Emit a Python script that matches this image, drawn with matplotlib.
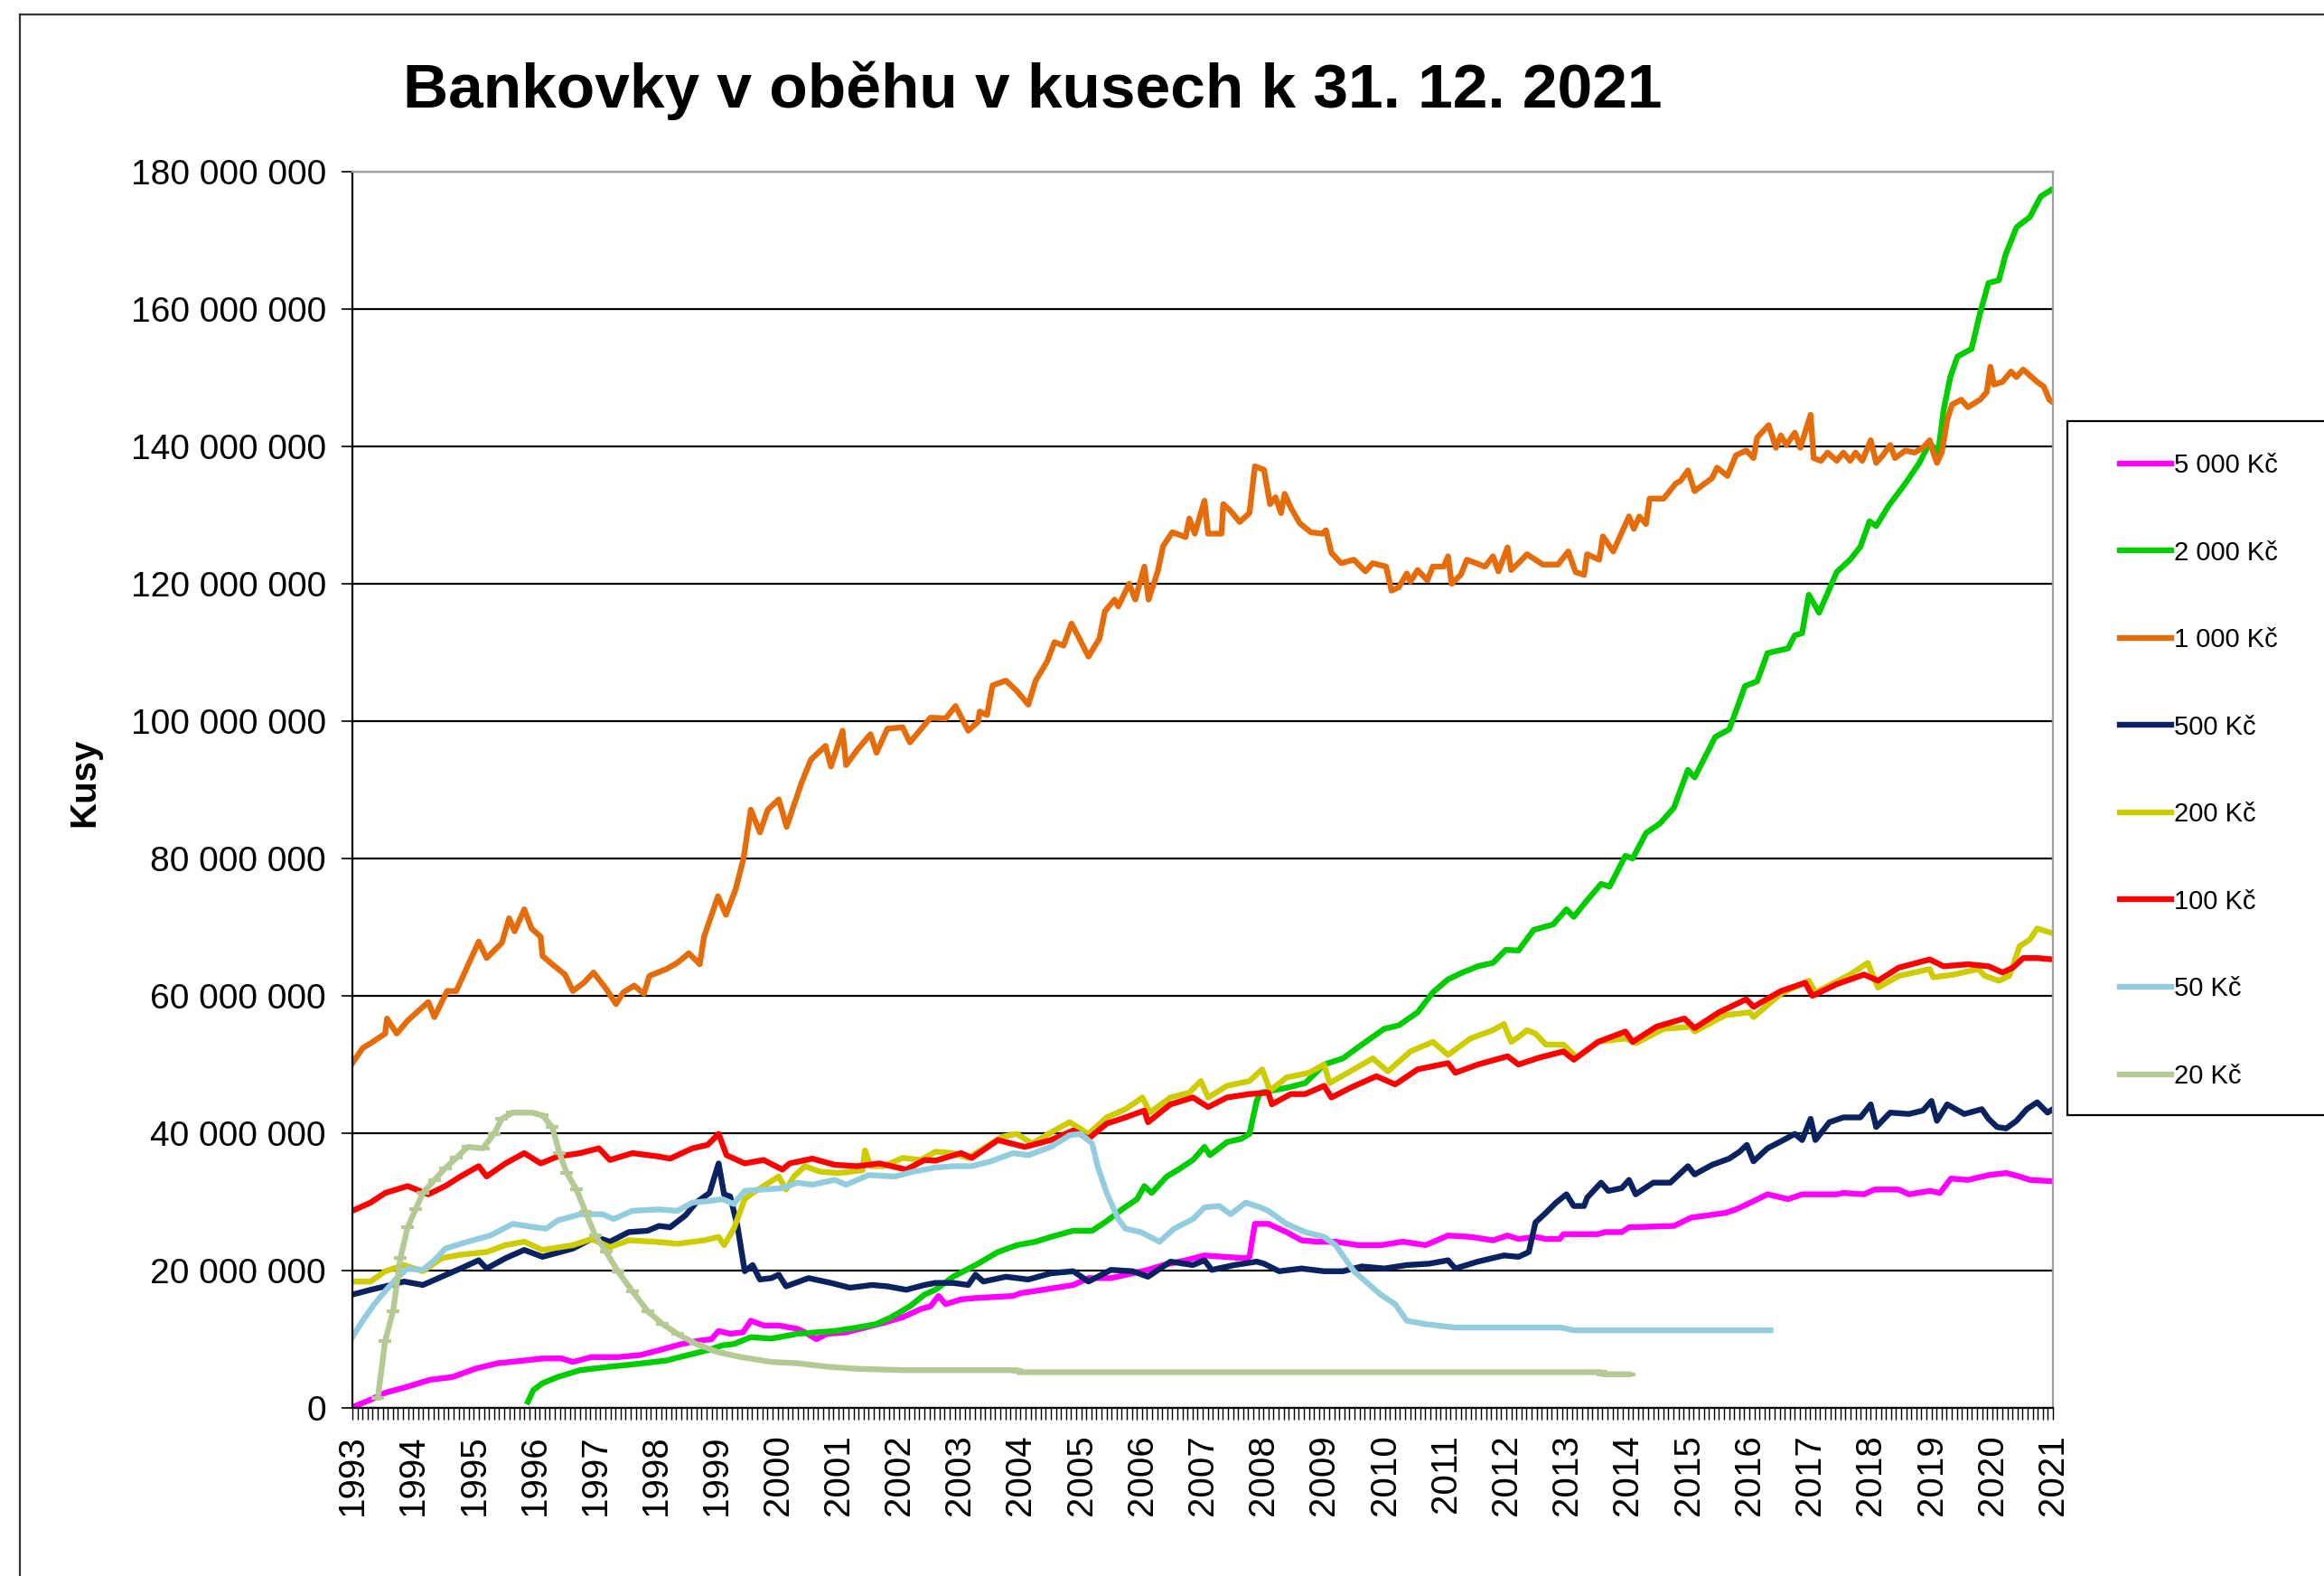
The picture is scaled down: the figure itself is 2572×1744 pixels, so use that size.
import matplotlib
matplotlib.use('Agg')
import matplotlib.pyplot as plt
from matplotlib.ticker import FuncFormatter, MultipleLocator
from matplotlib.patches import Rectangle
from matplotlib.lines import Line2D

plt.rcParams['font.family'] = ['Liberation Sans', 'DejaVu Sans']

# --- data: years (decimal) and values in millions of pieces ---
title = 'Bankovky v oběhu v kusech k 31. 12. 2021'
series_names = ['5 000 Kč', '2 000 Kč', '1 000 Kč', '500 Kč', '200 Kč', '100 Kč', '50 Kč', '20 Kč']
series_colors = ['#FF00FF', '#00CC00', '#E46C0A', '#0A2260', '#CCCC00', '#FF0000', '#93CDDD', '#B4C994']

k5000_x = [1993.0, 1993.3, 1993.54, 1993.91, 1994.28, 1994.65, 1995.02, 1995.39, 1995.83, 1996.13,
           1996.44, 1996.63, 1996.94, 1997.37, 1997.74, 1998.05, 1998.42, 1998.72, 1998.91, 1999.03,
           1999.22, 1999.43, 1999.56, 1999.77, 2000.02, 2000.33, 2000.45, 2000.64, 2000.82, 2001.13,
           2001.44, 2001.75, 2002.06, 2002.36, 2002.52, 2002.65, 2002.77, 2003.02, 2003.26, 2003.88,
           2004.0, 2004.37, 2004.87, 2005.12, 2005.49, 2005.85, 2006.1, 2006.35, 2006.72, 2007.03,
           2007.34, 2007.71, 2007.77, 2007.86, 2008.08, 2008.38, 2008.63, 2008.88, 2009.19, 2009.56,
           2009.93, 2010.3, 2010.67, 2011.04, 2011.41, 2011.78, 2012.02, 2012.2, 2012.48, 2012.65,
           2012.88, 2012.94, 2013.51, 2013.62, 2013.9, 2014.02, 2014.76, 2015.04, 2015.61, 2015.78,
           2016.07, 2016.3, 2016.64, 2016.87, 2017.44, 2017.55, 2017.89, 2018.06, 2018.46, 2018.63,
           2018.97, 2019.14, 2019.32, 2019.6, 2019.94, 2020.23, 2020.45, 2020.62, 2021.0]
k5000_y = [0.1, 1.2, 2.2, 3.1, 4.1, 4.5, 5.7, 6.5, 6.9, 7.2,
           7.2, 6.7, 7.4, 7.4, 7.7, 8.4, 9.3, 9.8, 10.0, 11.2,
           10.8, 11.0, 12.7, 12.0, 12.0, 11.5, 11.0, 10.0, 10.8, 11.0,
           11.7, 12.4, 13.2, 14.4, 14.8, 16.3, 15.1, 15.8, 16.0, 16.3,
           16.7, 17.2, 17.9, 18.9, 18.9, 19.6, 20.1, 20.8, 21.5, 22.2,
           22.0, 21.8, 22.0, 26.8, 26.8, 25.6, 24.4, 24.2, 24.2, 23.7,
           23.7, 24.2, 23.7, 25.1, 24.9, 24.4, 25.1, 24.6, 24.9, 24.6,
           24.6, 25.3, 25.3, 25.6, 25.6, 26.3, 26.5, 27.7, 28.4, 28.9,
           30.1, 31.1, 30.4, 31.1, 31.1, 31.3, 31.1, 31.8, 31.8, 31.1,
           31.6, 31.3, 33.4, 33.2, 33.9, 34.2, 33.7, 33.2, 33.0]

k2000_x = [1995.89, 1995.98, 1996.13, 1996.38, 1996.75, 1997.24, 1997.68, 1998.17, 1998.48, 1998.85,
           1999.09, 1999.28, 1999.56, 1999.9, 2000.33, 2000.64, 2000.94, 2001.31, 2001.62, 2001.87,
           2002.18, 2002.42, 2002.6, 2002.89, 2003.26, 2003.63, 2003.94, 2004.25, 2004.5, 2004.87,
           2005.18, 2005.42, 2005.67, 2005.92, 2006.04, 2006.16, 2006.41, 2006.6, 2006.84, 2007.03,
           2007.12, 2007.4, 2007.64, 2007.77, 2007.89, 2007.95, 2008.38, 2008.69, 2009.0, 2009.31,
           2009.62, 2009.99, 2010.23, 2010.54, 2010.79, 2011.04, 2011.28, 2011.53, 2011.78, 2011.99,
           2012.2, 2012.45, 2012.77, 2012.99, 2013.11, 2013.31, 2013.56, 2013.7, 2013.96, 2014.08,
           2014.3, 2014.53, 2014.76, 2014.99, 2015.1, 2015.44, 2015.67, 2015.93, 2016.13, 2016.3,
           2016.64, 2016.75, 2016.87, 2016.98, 2017.15, 2017.44, 2017.66, 2017.83, 2017.98, 2018.09,
           2018.29, 2018.57, 2018.8, 2018.97, 2019.11, 2019.2, 2019.31, 2019.43, 2019.66, 2019.8,
           2019.94, 2020.11, 2020.22, 2020.4, 2020.62, 2020.8, 2021.0]
k2000_y = [0.9, 2.6, 3.6, 4.5, 5.5, 6.0, 6.4, 6.9, 7.6, 8.4,
           9.1, 9.3, 10.3, 10.1, 10.8, 11.0, 11.2, 11.7, 12.2, 13.2,
           14.8, 16.5, 17.2, 19.1, 20.8, 22.7, 23.7, 24.2, 24.9, 25.8,
           25.8, 27.2, 28.9, 30.4, 32.3, 31.3, 33.7, 34.7, 36.1, 38.0,
           36.8, 38.7, 39.2, 39.9, 44.7, 45.9, 46.6, 47.3, 50.0, 50.9,
           52.9, 55.2, 55.7, 57.6, 60.5, 62.4, 63.4, 64.3, 64.8, 66.7,
           66.6, 69.6, 70.4, 72.6, 71.5, 73.7, 76.3, 75.9, 80.4, 80.0,
           83.7, 85.1, 87.4, 92.9, 91.8, 97.7, 98.8, 105.1, 105.8, 109.9,
           110.6, 112.5, 112.8, 118.4, 115.8, 121.7, 123.5, 125.4, 129.1, 128.4,
           131.3, 134.6, 137.6, 140.5, 139.1, 145.3, 150.1, 153.1, 154.2, 159.4,
           163.8, 164.2, 167.9, 171.9, 173.4, 176.4, 177.5]

k1000_x = [1993.0, 1993.17, 1993.3, 1993.54, 1993.57, 1993.73, 1993.91, 1994.25, 1994.35, 1994.56,
           1994.71, 1995.08, 1995.21, 1995.46, 1995.58, 1995.67, 1995.83, 1995.95, 1996.1, 1996.13,
           1996.29, 1996.5, 1996.63, 1996.81, 1996.97, 1997.18, 1997.34, 1997.46, 1997.64, 1997.8,
           1997.89, 1998.17, 1998.35, 1998.54, 1998.72, 1998.79, 1999.02, 1999.15, 1999.31, 1999.44,
           1999.56, 1999.71, 1999.84, 2000.02, 2000.15, 2000.39, 2000.55, 2000.79, 2000.88, 2001.07,
           2001.13, 2001.32, 2001.53, 2001.63, 2001.81, 2002.06, 2002.18, 2002.52, 2002.77, 2002.93,
           2003.14, 2003.3, 2003.33, 2003.45, 2003.54, 2003.76, 2003.94, 2004.13, 2004.25, 2004.44,
           2004.56, 2004.71, 2004.84, 2004.96, 2005.12, 2005.3, 2005.39, 2005.55, 2005.61, 2005.79,
           2005.89, 2006.04, 2006.11, 2006.26, 2006.35, 2006.5, 2006.72, 2006.78, 2006.87, 2007.03,
           2007.09, 2007.31, 2007.34, 2007.46, 2007.61, 2007.77, 2007.86, 2008.01, 2008.11, 2008.2,
           2008.29, 2008.35, 2008.45, 2008.6, 2008.78, 2008.97, 2009.03, 2009.12, 2009.28, 2009.49,
           2009.68, 2009.8, 2010.02, 2010.11, 2010.23, 2010.36, 2010.42, 2010.54, 2010.7, 2010.79,
           2010.97, 2011.04, 2011.1, 2011.25, 2011.35, 2011.5, 2011.65, 2011.78, 2011.87, 2012.02,
           2012.08, 2012.2, 2012.34, 2012.6, 2012.85, 2013.02, 2013.14, 2013.28, 2013.33, 2013.53,
           2013.59, 2013.76, 2014.02, 2014.1, 2014.19, 2014.3, 2014.36, 2014.59, 2014.79, 2014.87,
           2014.99, 2015.1, 2015.39, 2015.47, 2015.64, 2015.78, 2015.95, 2016.07, 2016.13, 2016.32,
           2016.44, 2016.52, 2016.61, 2016.75, 2016.84, 2017.01, 2017.06, 2017.18, 2017.29, 2017.44,
           2017.55, 2017.66, 2017.75, 2017.86, 2018.0, 2018.09, 2018.2, 2018.32, 2018.4, 2018.57,
           2018.72, 2018.86, 2018.97, 2019.03, 2019.09, 2019.17, 2019.26, 2019.34, 2019.49, 2019.6,
           2019.8, 2019.91, 2019.97, 2020.03, 2020.17, 2020.31, 2020.4, 2020.51, 2020.65, 2020.74,
           2020.85, 2020.94, 2021.0]
k1000_y = [50.2, 52.4, 53.1, 54.5, 56.7, 54.5, 56.4, 59.1, 56.9, 60.7,
           60.7, 67.9, 65.5, 67.7, 71.3, 69.4, 72.6, 69.8, 68.6, 65.8,
           64.6, 63.1, 60.7, 61.9, 63.4, 61.0, 58.8, 60.5, 61.5, 60.3,
           62.9, 63.9, 64.8, 66.2, 64.6, 68.6, 74.5, 71.8, 75.5, 80.0,
           87.1, 83.8, 87.1, 88.6, 84.6, 90.9, 94.4, 96.4, 93.4, 98.6,
           93.6, 95.9, 98.1, 95.4, 98.9, 99.1, 96.9, 100.5, 100.4, 102.2,
           98.6, 99.9, 101.4, 100.9, 105.2, 105.9, 104.4, 102.4, 105.9, 108.7,
           111.5, 111.0, 114.2, 112.2, 109.4, 112.0, 116.0, 117.7, 116.7, 120.0,
           117.7, 122.5, 117.7, 121.8, 125.5, 127.5, 126.8, 129.5, 127.3, 132.1,
           127.3, 127.3, 131.6, 130.6, 129.0, 130.3, 137.1, 136.6, 131.6, 132.6,
           130.3, 133.1, 131.1, 128.8, 127.5, 127.3, 127.8, 124.5, 123.0, 123.5,
           121.8, 123.0, 122.5, 119.0, 119.5, 121.5, 120.3, 122.0, 120.5, 122.5,
           122.5, 124.0, 120.0, 121.3, 123.5, 123.0, 122.5, 124.0, 121.8, 125.3,
           122.0, 123.0, 124.3, 122.8, 122.8, 124.7, 121.7, 121.3, 124.3, 123.5,
           126.9, 124.7, 129.8, 128.0, 129.8, 128.7, 132.4, 132.4, 134.6, 135.0,
           136.5, 133.5, 135.4, 136.9, 135.7, 138.7, 139.4, 138.3, 141.3, 143.1,
           139.8, 141.6, 140.2, 142.0, 139.8, 144.6, 138.3, 137.9, 139.1, 137.9,
           139.1, 137.9, 139.1, 137.9, 140.9, 137.6, 138.7, 140.2, 138.3, 139.4,
           139.1, 139.8, 140.9, 139.1, 137.6, 139.1, 143.9, 146.1, 146.8, 145.7,
           146.8, 147.9, 151.6, 149.0, 149.4, 150.9, 150.1, 151.2, 150.1, 149.4,
           148.7, 146.8, 146.4]

k500_x = [1993.0, 1993.3, 1993.54, 1993.85, 1994.16, 1994.47, 1994.78, 1995.08, 1995.21, 1995.52,
          1995.83, 1996.13, 1996.63, 1997.0, 1997.24, 1997.55, 1997.86, 1998.05, 1998.23, 1998.48,
          1998.66, 1998.88, 1999.03, 1999.12, 1999.22, 1999.34, 1999.46, 1999.59, 1999.71, 1999.9,
          2000.02, 2000.14, 2000.51, 2000.88, 2001.19, 2001.56, 2001.81, 2002.12, 2002.42, 2002.6,
          2002.89, 2003.14, 2003.26, 2003.39, 2003.76, 2004.13, 2004.5, 2004.87, 2005.12, 2005.49,
          2005.85, 2006.1, 2006.47, 2006.84, 2007.03, 2007.15, 2007.52, 2007.89, 2008.01, 2008.26,
          2008.63, 2009.0, 2009.31, 2009.62, 2009.99, 2010.36, 2010.73, 2011.04, 2011.16, 2011.53,
          2011.96, 2012.2, 2012.37, 2012.48, 2012.65, 2012.82, 2012.99, 2013.11, 2013.28, 2013.33,
          2013.56, 2013.68, 2013.9, 2014.02, 2014.13, 2014.42, 2014.7, 2014.99, 2015.1, 2015.39,
          2015.67, 2015.84, 2015.96, 2016.07, 2016.3, 2016.52, 2016.75, 2016.87, 2017.01, 2017.09,
          2017.32, 2017.55, 2017.83, 2018.0, 2018.09, 2018.32, 2018.63, 2018.86, 2019.0, 2019.09,
          2019.26, 2019.54, 2019.83, 2019.94, 2020.08, 2020.23, 2020.4, 2020.57, 2020.74, 2020.91,
          2021.0]
k500_y = [16.5, 17.2, 17.7, 18.4, 17.9, 19.1, 20.3, 21.5, 20.3, 21.8,
          23.0, 22.0, 23.2, 24.9, 24.2, 25.6, 25.8, 26.5, 26.3, 28.0,
          29.9, 31.3, 35.6, 31.1, 30.8, 26.5, 19.9, 20.8, 18.7, 18.9,
          19.4, 17.7, 18.9, 18.2, 17.5, 17.9, 17.7, 17.2, 17.9, 18.2,
          18.2, 17.9, 19.4, 18.4, 19.1, 18.7, 19.6, 19.9, 18.4, 20.1,
          19.9, 19.1, 21.3, 20.8, 21.5, 20.1, 20.8, 21.3, 21.0, 19.9,
          20.3, 19.9, 19.9, 20.6, 20.3, 20.8, 21.0, 21.5, 20.3, 21.3,
          22.2, 22.0, 22.7, 27.0, 28.4, 29.9, 31.1, 29.4, 29.4, 30.6,
          32.8, 31.6, 32.0, 33.2, 31.1, 32.8, 32.8, 35.2, 34.0, 35.4,
          36.3, 37.3, 38.3, 35.9, 37.8, 38.8, 39.9, 39.0, 42.1, 39.0,
          41.6, 42.3, 42.3, 44.2, 40.9, 43.0, 42.8, 43.3, 44.7, 41.8,
          44.2, 42.8, 43.5, 42.1, 40.9, 40.7, 41.8, 43.5, 44.5, 43.0,
          43.5]

k200_x = [1993.0, 1993.3, 1993.54, 1993.85, 1994.16, 1994.47, 1994.78, 1995.21, 1995.52, 1995.83,
          1996.13, 1996.63, 1996.94, 1997.24, 1997.55, 1997.98, 1998.35, 1998.79, 1999.03, 1999.12,
          1999.28, 1999.46, 1999.59, 1999.77, 2000.02, 2000.14, 2000.27, 2000.45, 2000.7, 2001.01,
          2001.4, 2001.44, 2001.53, 2001.75, 2002.06, 2002.36, 2002.6, 2002.89, 2003.14, 2003.7,
          2003.94, 2004.19, 2004.56, 2004.81, 2005.12, 2005.42, 2005.73, 2006.01, 2006.13, 2006.47,
          2006.78, 2006.97, 2007.09, 2007.4, 2007.77, 2007.98, 2008.11, 2008.38, 2008.75, 2009.0,
          2009.09, 2009.43, 2009.8, 2010.05, 2010.42, 2010.79, 2011.04, 2011.41, 2011.78, 2011.96,
          2012.08, 2012.2, 2012.34, 2012.48, 2012.65, 2012.94, 2013.16, 2013.51, 2013.96, 2014.13,
          2014.59, 2015.04, 2015.1, 2015.61, 2016.01, 2016.07, 2016.52, 2016.98, 2017.09, 2017.66,
          2017.95, 2018.12, 2018.46, 2018.97, 2019.03, 2019.37, 2019.77, 2019.88, 2020.11, 2020.28,
          2020.45, 2020.62, 2020.74, 2021.0]
k200_y = [18.4, 18.4, 19.9, 20.8, 19.9, 21.8, 22.3, 22.7, 23.7, 24.2,
          23.0, 23.7, 24.6, 23.4, 24.4, 24.2, 23.9, 24.4, 24.9, 23.7,
          26.1, 30.4, 31.3, 32.3, 33.7, 31.8, 33.7, 35.2, 34.4, 34.2,
          34.6, 37.5, 35.2, 35.2, 36.4, 36.1, 37.3, 37.1, 36.4, 39.5,
          39.9, 38.5, 40.4, 41.6, 39.9, 42.3, 43.5, 45.2, 43.0, 45.2,
          45.9, 47.6, 45.2, 46.9, 47.6, 49.3, 46.2, 48.1, 48.8, 50.0,
          47.3, 49.0, 50.9, 49.0, 51.9, 53.3, 51.4, 53.8, 55.0, 55.9,
          53.3, 54.0, 55.0, 54.5, 52.9, 52.9, 51.0, 53.3, 53.8, 53.1,
          55.2, 55.5, 54.8, 57.2, 57.6, 56.9, 60.3, 62.2, 60.5, 63.1,
          64.8, 61.2, 62.9, 63.9, 62.7, 63.1, 63.9, 62.9, 62.2, 62.9,
          67.2, 68.2, 69.8, 69.1]

k100_x = [1993.0, 1993.3, 1993.54, 1993.91, 1994.25, 1994.53, 1994.78, 1995.08, 1995.21, 1995.52,
          1995.83, 1996.1, 1996.38, 1996.75, 1997.06, 1997.24, 1997.61, 1998.05, 1998.23, 1998.6,
          1998.85, 1999.03, 1999.16, 1999.46, 1999.77, 2000.08, 2000.2, 2000.57, 2000.94, 2001.31,
          2001.68, 2002.12, 2002.42, 2002.6, 2003.02, 2003.2, 2003.63, 2004.07, 2004.5, 2004.87,
          2005.12, 2005.42, 2005.73, 2006.04, 2006.1, 2006.47, 2006.84, 2007.09, 2007.4, 2007.77,
          2008.08, 2008.14, 2008.45, 2008.69, 2009.0, 2009.12, 2009.43, 2009.86, 2010.17, 2010.54,
          2011.04, 2011.16, 2011.53, 2012.02, 2012.2, 2012.54, 2012.94, 2013.11, 2013.51, 2013.96,
          2014.08, 2014.47, 2014.93, 2015.1, 2015.5, 2015.95, 2016.07, 2016.52, 2016.92, 2017.04,
          2017.44, 2017.89, 2018.12, 2018.46, 2018.97, 2019.2, 2019.6, 2019.94, 2020.17, 2020.34,
          2020.51, 2020.74, 2021.0]
k100_y = [28.7, 29.9, 31.3, 32.3, 31.1, 32.3, 33.7, 35.2, 33.7, 35.6,
          37.1, 35.6, 36.6, 37.1, 37.8, 36.1, 37.1, 36.6, 36.3, 37.8,
          38.3, 39.9, 36.8, 35.6, 36.1, 34.7, 35.6, 36.3, 35.4, 35.2,
          35.6, 34.7, 36.1, 36.0, 37.1, 36.4, 39.0, 38.0, 39.0, 40.4,
          39.2, 41.4, 42.3, 43.3, 41.6, 44.2, 45.2, 43.8, 45.2, 45.7,
          45.9, 44.2, 45.7, 45.7, 46.9, 45.2, 46.6, 48.3, 47.1, 49.3,
          50.2, 48.8, 50.0, 51.2, 50.0, 51.0, 51.9, 50.7, 53.3, 54.8,
          53.3, 55.5, 56.7, 55.3, 57.6, 59.5, 58.4, 60.7, 61.9, 60.0,
          61.7, 63.1, 62.2, 64.1, 65.3, 64.3, 64.6, 64.3, 63.4, 64.1,
          65.5, 65.5, 65.3]

k50_x = [1993.0, 1993.17, 1993.36, 1993.54, 1993.73, 1993.91, 1994.16, 1994.35, 1994.53, 1994.9,
         1995.27, 1995.64, 1996.01, 1996.19, 1996.38, 1996.75, 1997.12, 1997.3, 1997.61, 1998.05,
         1998.35, 1998.6, 1998.85, 1999.09, 1999.28, 1999.46, 1999.77, 2000.08, 2000.33, 2000.57,
         2000.94, 2001.13, 2001.5, 2001.93, 2002.24, 2002.6, 2002.89, 2003.2, 2003.51, 2003.88,
         2004.13, 2004.5, 2004.81, 2004.99, 2005.18, 2005.27, 2005.42, 2005.61, 2005.73, 2005.98,
         2006.29, 2006.53, 2006.84, 2007.03, 2007.27, 2007.46, 2007.71, 2007.95, 2008.08, 2008.38,
         2008.69, 2009.0, 2009.19, 2009.49, 2009.93, 2010.17, 2010.36, 2010.67, 2011.16, 2012.2,
         2012.9, 2013.11, 2016.35]
k50_y = [10.3, 12.7, 15.1, 17.0, 18.9, 20.3, 20.1, 21.5, 23.2, 24.2,
         25.1, 26.8, 26.3, 26.1, 27.3, 28.2, 28.2, 27.5, 28.7, 28.9,
         28.7, 29.9, 30.1, 30.4, 29.7, 31.6, 31.8, 32.0, 32.8, 32.5,
         33.2, 32.5, 33.9, 33.7, 34.4, 35.0, 35.2, 35.2, 35.9, 37.1,
         36.8, 38.0, 39.7, 39.9, 38.5, 35.2, 31.3, 27.5, 26.1, 25.6,
         24.2, 26.1, 27.5, 29.2, 29.4, 28.2, 29.9, 29.2, 28.7, 26.8,
         25.6, 24.9, 23.7, 19.9, 16.5, 15.1, 12.7, 12.2, 11.7, 11.7,
         11.7, 11.3, 11.3]

k20_x = [1993.42, 1993.54, 1993.67, 1993.79, 1993.91, 1994.04, 1994.16, 1994.35, 1994.53, 1994.71,
         1994.9, 1995.15, 1995.33, 1995.46, 1995.64, 1995.95, 1996.13, 1996.29, 1996.41, 1996.53,
         1996.69, 1996.84, 1997.0, 1997.18, 1997.37, 1997.61, 1997.86, 1998.11, 1998.35, 1998.66,
         1999.03, 1999.4, 1999.9, 2000.33, 2000.82, 2001.31, 2002.06, 2003.94, 2003.97, 2013.56,
         2013.59, 2014.02]
k20_y = [1.5, 9.8, 14.1, 21.8, 26.3, 28.9, 31.3, 33.2, 34.9, 36.4,
         38.0, 37.8, 39.9, 42.1, 43.0, 43.0, 42.6, 40.9, 37.1, 34.2,
         31.8, 28.5, 25.1, 22.7, 19.9, 17.0, 14.1, 12.2, 10.8, 9.3,
         8.1, 7.4, 6.7, 6.5, 6.0, 5.7, 5.5, 5.5, 5.2, 5.2,
         4.9, 4.9]

series_x = [k5000_x, k2000_x, k1000_x, k500_x, k200_x, k100_x, k50_x, k20_x]
series_y = [k5000_y, k2000_y, k1000_y, k500_y, k200_y, k100_y, k50_y, k20_y]
years = list(range(1993, 2022))

# --- figure ---
W, H = 2572, 1744
fig = plt.figure(figsize=(W / 100, H / 100), dpi=100)
ax = fig.add_axes([390 / W, 1 - 1558 / H, (2272 - 390) / W, (1558 - 190) / H])

lines = []
for name, col, xs, ys in zip(series_names, series_colors, series_x, series_y):
    kw = {}
    if name == '20 Kč':
        kw = dict(marker='_', markersize=10, markeredgewidth=3)
    ln, = ax.plot(xs, [v * 1e6 for v in ys], color=col, lw=4.6, label=name,
                  solid_joinstyle='round', **kw)
    lines.append(ln)

ax.set_xlim(1993, 2021)
ax.set_ylim(0, 180e6)
ax.set_yticks(range(0, 180000001, 20000000))
ax.yaxis.set_major_formatter(FuncFormatter(lambda v, p: f'{int(v):,}'.replace(',', ' ')))
ax.set_xticks(years)
ax.set_xticklabels([str(y) for y in years], rotation=90)
ax.xaxis.set_minor_locator(MultipleLocator(1 / 12))

ax.grid(axis='y', color='black', lw=1.6)
ax.set_axisbelow(True)
for side in ['left', 'bottom']:
    ax.spines[side].set_color('black')
    ax.spines[side].set_linewidth(1.6)
for side in ['top', 'right']:
    ax.spines[side].set_color('#A0A0A0')
    ax.spines[side].set_linewidth(1.6)

ax.tick_params(axis='y', which='major', length=9, width=1.2, labelsize=28, pad=12)
ax.tick_params(axis='x', which='both', length=9, width=1.0, labelsize=29, pad=12)

# title and y label
fig.text(1143 / W, 1 - 100 / H, title, ha='center', va='center', fontsize=50, fontweight='bold')
fig.text(93 / W, 1 - 866 / H, 'Kusy', ha='center', va='center', rotation=90,
         fontsize=29, fontweight='bold')

# outer frame (left and top edges visible)
fig.add_artist(Line2D([22 / W, 22 / W], [0, 1 - 16 / H], transform=fig.transFigure,
                      color='#333333', lw=1.6))
fig.add_artist(Line2D([22 / W, 1], [1 - 16 / H, 1 - 16 / H], transform=fig.transFigure,
                      color='#333333', lw=1.6))

# legend box running off the right edge
fig.add_artist(Rectangle((2288 / W, 1 - 1234 / H), 0.2, (1234 - 466) / H,
                         transform=fig.transFigure, facecolor='white',
                         edgecolor='black', lw=1.6, zorder=5))
leg = fig.legend(handles=lines, loc='upper left', bbox_to_anchor=(2346 / W, 1 - 501 / H),
                 frameon=False, fontsize=21, handlelength=1.95, handletextpad=0.1,
                 labelspacing=2.35, borderpad=0, borderaxespad=0)
leg.set_zorder(6)

plt.savefig('out.png', dpi=100)
